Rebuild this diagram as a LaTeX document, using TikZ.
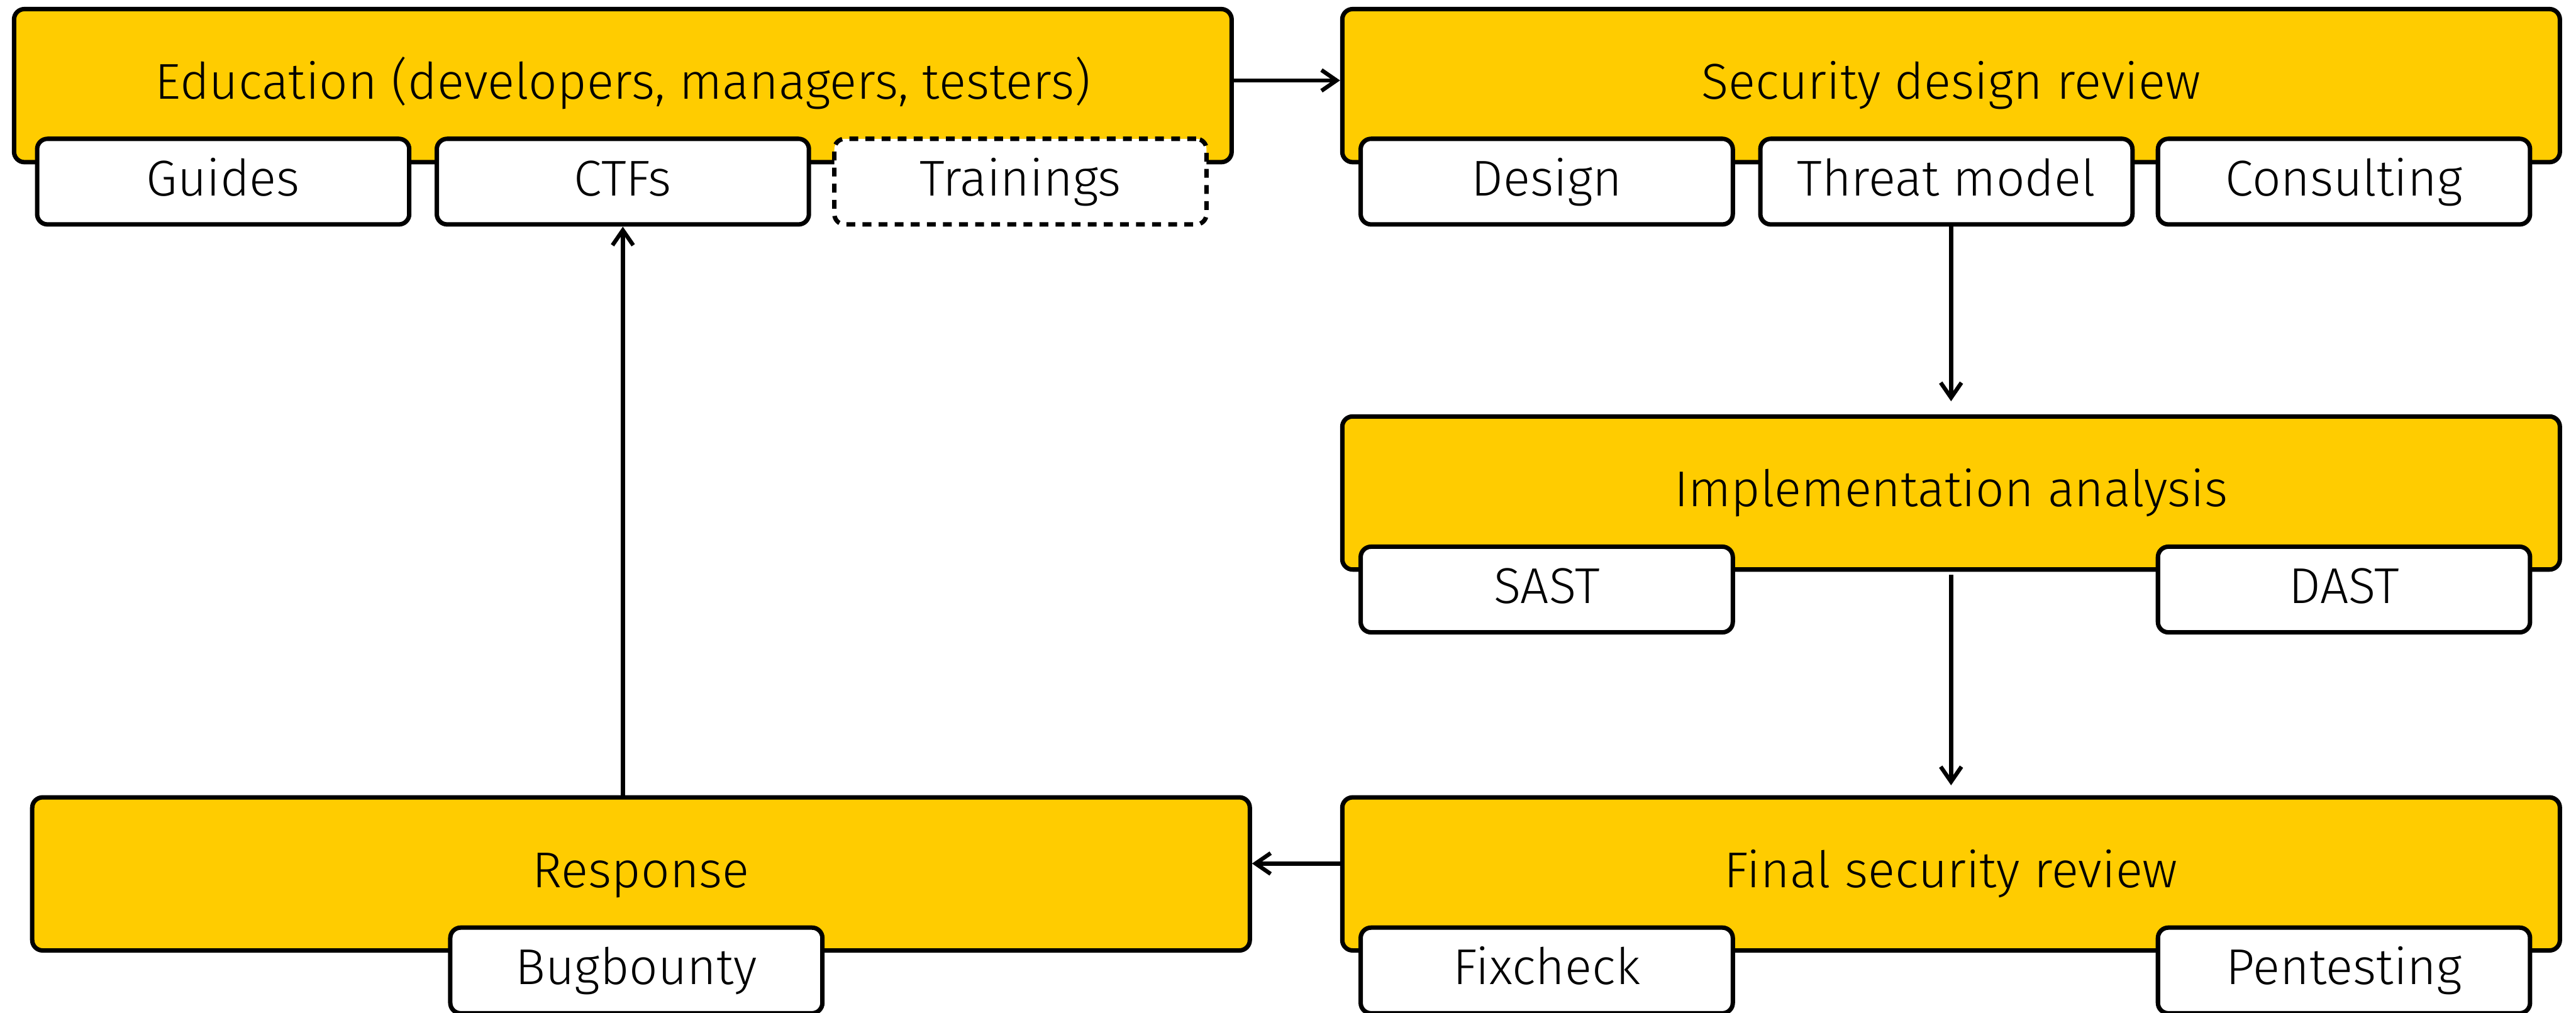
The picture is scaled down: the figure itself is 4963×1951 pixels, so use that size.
\documentclass[tikz,border=0pt]{standalone}
\usepackage{fontspec}
\IfFontExistsTF{Fira Sans Light}{\setmainfont{Fira Sans Light}}{\setmainfont{Fira Sans}}
\usepackage{tikz}
\usetikzlibrary{arrows.meta}
\definecolor{stageyellow}{HTML}{FFCC00}

\begin{document}
\begin{tikzpicture}[x=0.1pt,y=-0.1pt,>={Straight Barb[length=2.9pt,width=4pt]},
	stage/.style={shape=rectangle,rounded corners=2pt,draw,line width=0.85pt,fill=stageyellow,
		minimum width=234.6pt,minimum height=29.5pt,text height=7.2pt,text depth=2pt,
		font=\fontsize{9.7}{12}\selectfont},
	part/.style={shape=rectangle,rounded corners=2pt,draw,line width=0.85pt,fill=white,
		minimum width=71.7pt,minimum height=16.5pt,text height=7.4pt,text depth=2pt,
		font=\fontsize{9.7}{12}\selectfont},
	flow/.style={->,line width=0.78pt}]
					\useasboundingbox (0,0) rectangle (4963,1951);

					\node (education) [stage] at (1200,165) {Education (developers, managers, testers)};
					\node (guides) [part] at (430,350) {Guides};
					\node (ctfs) [part] at (1200,350) {CTFs};
					\node (trainings) [part,dash pattern=on 1.7pt off 1.4pt] at (1966,350) {Trainings};

					\node (designreview) [stage] at (3759,165) {Security design review};
					\node (design) [part] at (2980,350) {Design};
					\node (threat) [part] at (3750,350) {Threat model};
					\node (consulting) [part] at (4516,350) {Consulting};

					\node (implementation) [stage] at (3759,950) {Implementation analysis};
					\node (sast) [part] at (2980,1136) {SAST};
					\node (dast) [part] at (4516,1136) {DAST};

					\node (finalreview) [stage] at (3759,1684) {Final security review};
					\node (fixcheck) [part] at (2980,1870) {Fixcheck};
					\node (pentesting) [part] at (4516,1870) {Pentesting};

					\node (response) [stage] at (1235,1684) {Response};
					\node (bugbounty) [part] at (1226,1870) {Bugbounty};

					\path[flow] ([yshift=1pt]education.east) edge ([yshift=1pt]designreview.west);
					\path[flow] (threat.south -| implementation.north) edge [shorten >=2.5pt] (implementation.north);
					\path[flow] (implementation.south) edge [shorten <=0.6pt,shorten >=1.9pt] (finalreview.north);
					\path[flow] ([yshift=2pt]finalreview.west) edge ([yshift=2pt]response.east);
					\path[flow] (response.north -| ctfs.south) edge (ctfs.south);
				\end{tikzpicture}
\end{document}
